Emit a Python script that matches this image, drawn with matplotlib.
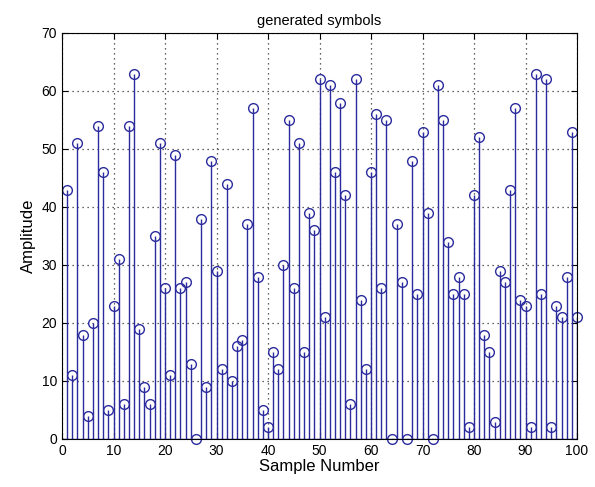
import matplotlib
matplotlib.use("AGG")
import matplotlib.pyplot as plt
import numpy as np

# sample index and symbol amplitude
samples = np.arange(1, 101)
amplitude = [43, 11, 51, 18, 4, 20, 54, 46, 5, 23,
             31, 6, 54, 63, 19, 9, 6, 35, 51, 26,
             11, 49, 26, 27, 13, 0, 38, 9, 48, 29,
             12, 44, 10, 16, 17, 37, 57, 28, 5, 2,
             15, 12, 30, 55, 26, 51, 15, 39, 36, 62,
             21, 61, 46, 58, 42, 6, 62, 24, 12, 46,
             56, 26, 55, 0, 37, 27, 0, 48, 25, 53,
             39, 0, 61, 55, 34, 25, 28, 25, 2, 42,
             52, 18, 15, 3, 29, 27, 43, 57, 24, 23,
             2, 63, 25, 62, 2, 23, 21, 28, 53, 21]
xticks = np.arange(0, 101, 10)
yticks = np.arange(0, 71, 10)

plt.rcParams['font.family'] = ['Liberation Sans', 'DejaVu Sans']
stem_col = '#2b2b9e'

fig = plt.figure(figsize=(5.95, 4.87), dpi=100)
ax = fig.add_axes([62/595, 48/487, 515/595, 406/487])

ml, sl, bl = ax.stem(samples, amplitude, basefmt=' ')
plt.setp(sl, color=stem_col, linewidth=1.0)
plt.setp(ml, marker='o', markersize=7, markerfacecolor='none',
         markeredgecolor=stem_col, markeredgewidth=1.0, clip_on=False)
ax.axhline(0, color=stem_col, linewidth=1.0, zorder=1)

ax.set_xlim(0, 100)
ax.set_ylim(0, 70)
ax.set_xticks(xticks)
ax.set_yticks(yticks)
ax.grid(True, linestyle=(0, (1, 3)), color='#333333', linewidth=0.9)
ax.tick_params(direction='in', top=True, right=True, labelsize=10, length=4)
for s in ax.spines.values():
    s.set_linewidth(0.8)

ax.set_title("generated symbols", fontsize=10.5)
ax.set_xlabel("Sample Number", fontsize=12, labelpad=1)
ax.set_ylabel("Amplitude", fontsize=12)

plt.savefig("out.png", dpi=100)
